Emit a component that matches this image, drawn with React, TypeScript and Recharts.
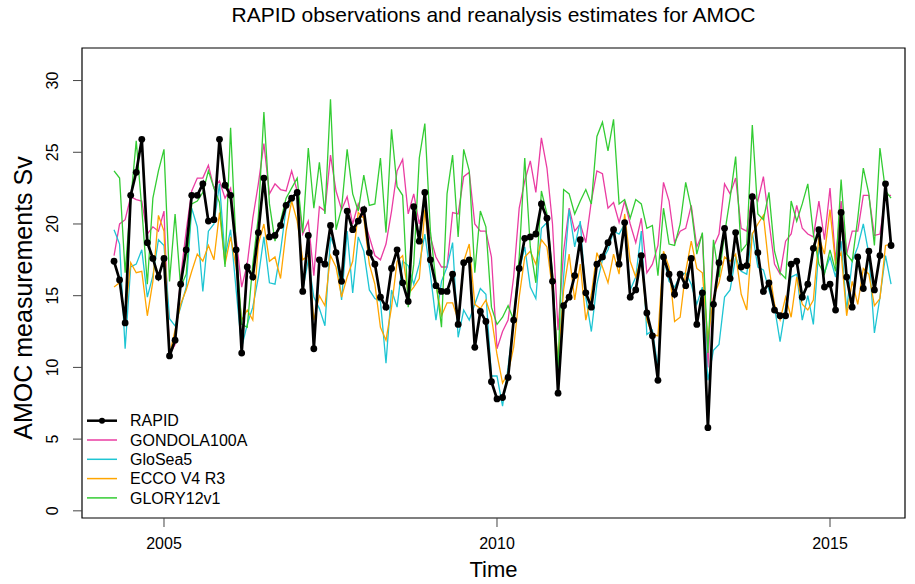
import { LineChart, Line, XAxis, YAxis, ReferenceArea } from "recharts";

// monthly values, Apr 2004 .. Dec 2015
const startTime = 2004.25;

const rapid = [
  17.4, 16.1, 13.1, 22.0, 23.6, 25.9, 18.7, 17.6, 16.3, 17.6,
  10.8, 11.9, 15.8, 18.2, 22.0, 22.0, 22.8, 20.2, 20.3, 25.9,
  22.7, 22.0, 18.2, 11.0, 17.0, 16.3, 19.4, 23.2, 19.1, 19.2,
  19.9, 21.3, 21.8, 22.2, 15.3, 19.2, 11.3, 17.5, 17.2, 19.9,
  18.0, 16.0, 20.9, 19.6, 20.2, 21.0, 18.0, 17.2, 14.9, 14.2,
  16.9, 18.2, 15.9, 14.6, 21.2, 18.8, 22.2, 17.5, 15.7, 15.3,
  15.3, 16.5, 13.0, 17.3, 17.5, 11.4, 13.9, 13.2, 9.0, 7.8,
  7.9, 9.3, 13.3, 16.9, 19.0, 19.1, 19.3, 21.4, 20.4, 16.0,
  8.2, 14.3, 14.9, 16.4, 18.9, 15.2, 14.2, 17.2, 17.7, 18.7,
  19.6, 17.2, 20.1, 14.9, 15.4, 17.8, 13.8, 12.2, 9.1, 17.7,
  16.5, 15.1, 16.5, 15.7, 17.6, 13.0, 15.2, 5.8, 14.4, 17.3,
  19.7, 16.2, 19.4, 17.0, 17.1, 21.9, 18.0, 15.3, 15.9, 14.0,
  13.6, 13.6, 17.2, 17.4, 14.9, 15.8, 18.3, 19.6, 15.6, 15.8,
  14.0, 20.8, 16.3, 14.2, 17.7, 15.5, 18.1, 15.4, 17.8, 22.8,
  18.5,
];

const gondola = [
  17.8, 20.0, 20.3, 21.9, 21.7, 21.6, 19.3, 19.8, 19.5, 20.9,
  10.9, 11.6, 16.3, 19.5, 22.3, 23.2, 23.2, 24.1, 22.5, 23.0,
  21.8, 22.5, 19.0, 15.6, 17.2, 20.4, 22.8, 25.6, 22.1, 22.8,
  22.4, 22.3, 23.7, 22.3, 19.3, 20.2, 16.4, 21.2, 20.9, 24.8,
  22.3, 21.0, 21.9, 20.0, 21.4, 20.4, 19.1, 17.8, 17.5, 18.6,
  20.9, 23.7, 24.5, 20.7, 22.1, 20.0, 21.5, 19.1, 17.7, 17.0,
  17.0, 20.8, 20.7, 23.3, 23.6, 20.0, 19.5, 19.5, 17.7, 11.3,
  12.5, 13.3, 16.3, 21.1, 23.0, 24.4, 22.2, 26.0, 23.9, 20.0,
  12.6, 18.1, 21.1, 19.5, 20.0, 18.7, 21.6, 23.7, 23.5, 21.1,
  21.5, 20.1, 21.6, 20.0, 18.7, 20.4, 16.6, 17.2, 18.5, 22.9,
  21.6, 18.7, 19.5, 19.7, 21.3, 18.4, 19.3, 10.0, 18.4, 19.3,
  22.8, 22.1, 23.2, 19.7, 19.5, 22.1, 21.6, 23.3, 20.2, 17.2,
  16.5, 18.8, 19.3, 21.3, 19.7, 19.3, 19.1, 21.6, 18.9, 22.5,
  17.4, 21.6, 17.9, 19.5, 19.5, 22.0, 22.0, 19.2, 19.3, 22.0,
  22.0,
];

const gloSea5 = [
  19.6, 18.6, 11.3, 17.0, 17.2, 18.2, 14.9, 16.4, 18.9, 18.5,
  13.4, 12.9, 14.2, 15.6, 21.1, 19.8, 15.3, 19.5, 20.0, 22.8,
  17.7, 19.6, 15.4, 11.4, 13.0, 14.2, 16.3, 19.1, 15.9, 15.8,
  18.1, 21.1, 21.6, 22.3, 15.4, 17.5, 14.9, 14.1, 12.9, 19.1,
  18.1, 14.7, 19.5, 15.2, 19.1, 18.1, 15.4, 14.8, 14.6, 10.3,
  15.4, 14.2, 17.4, 17.1, 15.8, 17.2, 19.3, 16.5, 13.3, 16.0,
  17.0, 18.7, 12.1, 14.0, 13.3, 14.4, 15.5, 15.1, 9.4, 9.4,
  7.3, 10.0, 13.3, 16.7, 18.4, 15.6, 14.8, 19.7, 20.1, 16.3,
  9.6, 16.3, 21.0, 18.4, 20.2, 14.9, 12.5, 15.8, 17.5, 18.2,
  19.5, 19.3, 20.0, 15.4, 16.3, 19.5, 12.3, 12.6, 10.0, 17.7,
  16.0, 15.6, 16.4, 16.6, 15.8, 14.4, 15.6, 9.1, 11.2, 11.6,
  14.9, 15.4, 17.7, 16.7, 16.5, 19.4, 17.0, 16.8, 15.4, 14.2,
  11.8, 14.2, 16.3, 16.5, 13.3, 15.0, 13.0, 18.4, 16.6, 17.7,
  16.3, 18.8, 14.0, 17.4, 18.4, 20.0, 17.9, 12.4, 14.9, 17.8,
  15.8,
];

const eccoV4 = [
  15.6, 15.9, 13.5, 17.3, 16.6, 16.7, 13.6, 16.0, 20.6, 19.5,
  10.9, 12.6, 14.4, 15.4, 16.7, 17.9, 17.4, 18.5, 17.5, 20.8,
  17.2, 19.1, 17.0, 13.3, 14.0, 13.3, 18.6, 20.0, 17.4, 17.7,
  16.2, 19.5, 21.6, 20.2, 17.5, 17.8, 13.3, 15.0, 14.3, 17.8,
  17.0, 14.9, 16.3, 17.4, 20.8, 20.4, 17.2, 15.8, 12.8, 11.9,
  14.2, 17.4, 17.8, 15.1, 15.6, 16.2, 21.0, 17.4, 15.8, 13.6,
  14.5, 14.5, 13.3, 17.4, 18.6, 14.4, 14.1, 14.7, 13.5, 10.9,
  8.9, 9.6, 11.4, 14.9, 17.7, 18.1, 17.2, 18.9, 18.4, 15.4,
  10.3, 15.4, 17.9, 14.7, 17.2, 13.3, 15.1, 18.0, 17.0, 15.9,
  17.9, 16.5, 20.7, 17.4, 16.3, 17.7, 13.3, 12.3, 12.2, 18.1,
  17.0, 13.2, 13.5, 16.7, 18.8, 16.9, 16.6, 12.0, 14.9, 15.9,
  17.7, 17.4, 17.9, 15.1, 14.0, 19.3, 20.0, 20.6, 17.0, 14.4,
  13.3, 14.9, 13.5, 16.3, 14.4, 14.0, 14.7, 19.1, 17.9, 21.0,
  17.2, 18.0, 13.6, 16.0, 14.4, 16.9, 16.5, 14.3, 14.8, 18.5,
  18.6,
];

const glory12 = [
  23.7, 23.2, 16.6, 21.6, 25.8, 21.1, 15.8, 21.8, 23.7, 25.2,
  16.0, 20.7, 15.6, 16.5, 21.4, 21.6, 22.2, 23.7, 22.5, 21.5,
  17.0, 26.7, 18.4, 13.0, 12.8, 17.2, 20.5, 27.8, 21.4, 18.8,
  20.2, 21.8, 22.5, 23.2, 19.4, 25.3, 21.1, 24.3, 20.7, 28.7,
  19.6, 21.1, 25.2, 22.1, 20.9, 23.4, 21.3, 21.4, 24.6, 19.4,
  26.6, 22.6, 22.0, 14.2, 17.2, 24.6, 27.0, 19.5, 16.0, 12.8,
  22.1, 24.8, 19.1, 25.2, 23.7, 16.6, 20.9, 19.8, 14.2, 13.0,
  13.5, 14.3, 13.3, 17.7, 24.6, 18.4, 15.9, 22.3, 20.7, 16.5,
  9.6, 22.4, 22.1, 20.7, 21.6, 22.4, 21.4, 26.1, 27.1, 25.1,
  27.3, 21.4, 21.7, 20.4, 21.7, 21.4, 19.7, 19.9, 16.4, 21.1,
  18.6, 18.5, 20.0, 22.9, 21.1, 17.9, 19.4, 11.0, 18.9, 16.3,
  19.3, 21.8, 24.7, 18.1, 18.6, 26.9, 20.7, 20.3, 22.2, 18.1,
  16.6, 16.2, 21.6, 20.2, 21.4, 22.8, 19.3, 17.2, 16.5, 18.2,
  16.7, 23.1, 17.9, 17.4, 20.4, 23.9, 22.1, 18.5, 25.3, 22.3,
  21.8,
];

const seriesNames = ["RAPID", "GONDOLA100A", "GloSea5", "ECCO V4 R3", "GLORY12v1"];
const seriesColors = ["#000000", "#EA3CA2", "#1EC5D3", "#FFA500", "#33CC33"];
const xTicks = [2005, 2010, 2015];
const yTicks = [0, 5, 10, 15, 20, 25, 30];

const data = rapid.map((v, i) => ({
  time: startTime + i / 12,
  rapid: v,
  gondola: gondola[i],
  glosea: gloSea5[i],
  ecco: eccoV4[i],
  glory: glory12[i],
}));

const X_MIN = 2003.769;
const X_MAX = 2016.126;
const Y_MIN = -0.5;
const Y_MAX = 32.27;
const FONT = "'Liberation Sans', Arial, Helvetica, sans-serif";

const YTick = (props: any) => {
  const { x, y, payload } = props;
  return (
    <text
      x={0}
      y={0}
      transform={`translate(${x - 13}, ${y}) rotate(-90)`}
      textAnchor="middle"
      fontSize={16}
      fontFamily={FONT}
      fill="#000"
    >
      {payload.value}
    </text>
  );
};

const App = () => {
  return (
    <div style={{ position: "absolute", left: 0, top: 0, width: 915, height: 584, background: "#fff" }}>
      <LineChart
        width={915}
        height={584}
        data={data}
        margin={{ top: 48, right: 10, bottom: 0, left: 0 }}
      >
        <XAxis
          dataKey="time"
          type="number"
          domain={[X_MIN, X_MAX]}
          ticks={xTicks}
          height={66}
          tickSize={9}
          tickMargin={11}
          axisLine={false}
          tickLine={{ stroke: "#444" }}
          tick={{ fontSize: 16, fill: "#000", fontFamily: FONT }}
          allowDataOverflow
        />
        <YAxis
          type="number"
          domain={[Y_MIN, Y_MAX]}
          ticks={yTicks}
          width={82}
          tickSize={9}
          axisLine={false}
          tickLine={{ stroke: "#444" }}
          tick={<YTick />}
          allowDataOverflow
        />
        <ReferenceArea
          x1={X_MIN}
          x2={X_MAX}
          y1={Y_MIN}
          y2={Y_MAX}
          fill="none"
          fillOpacity={0}
          stroke="#000"
          strokeWidth={1.2}
          ifOverflow="visible"
        />
        <Line type="linear" dataKey="gondola" stroke={seriesColors[1]} strokeWidth={1.3} dot={false} isAnimationActive={false} />
        <Line type="linear" dataKey="glosea" stroke={seriesColors[2]} strokeWidth={1.3} dot={false} isAnimationActive={false} />
        <Line type="linear" dataKey="ecco" stroke={seriesColors[3]} strokeWidth={1.3} dot={false} isAnimationActive={false} />
        <Line type="linear" dataKey="glory" stroke={seriesColors[4]} strokeWidth={1.3} dot={false} isAnimationActive={false} />
        <Line
          type="linear"
          dataKey="rapid"
          stroke="#000"
          strokeWidth={2.7}
          dot={{ r: 3.4, fill: "#000", stroke: "#000", strokeWidth: 0 }}
          isAnimationActive={false}
        />
      </LineChart>
      <svg
        width={915}
        height={584}
        style={{ position: "absolute", left: 0, top: 0, pointerEvents: "none" }}
        fontFamily={FONT}
      >
        <text x={493.5} y={22} textAnchor="middle" fontSize={21} fill="#000">
          RAPID observations and reanalysis estimates for AMOC
        </text>
        <text x={493.5} y={577} textAnchor="middle" fontSize={22} fill="#000">
          Time
        </text>
        <text
          x={0}
          y={0}
          transform="translate(32, 298) rotate(-90)"
          textAnchor="middle"
          fontSize={25}
          fill="#000"
        >
          AMOC measurements Sv
        </text>
        {seriesNames.map((name, k) => {
          const y = 420.7 + k * 19.3;
          return (
            <g key={name}>
              <line x1={87} x2={117} y1={y} y2={y} stroke={seriesColors[k]} strokeWidth={k === 0 ? 2.5 : 1.5} />
              {k === 0 && <circle cx={102} cy={y} r={3} fill="#000" />}
              <text x={130} y={y} dy="0.36em" fontSize={16} fill="#000">
                {name}
              </text>
            </g>
          );
        })}
      </svg>
    </div>
  );
};

export default App;
